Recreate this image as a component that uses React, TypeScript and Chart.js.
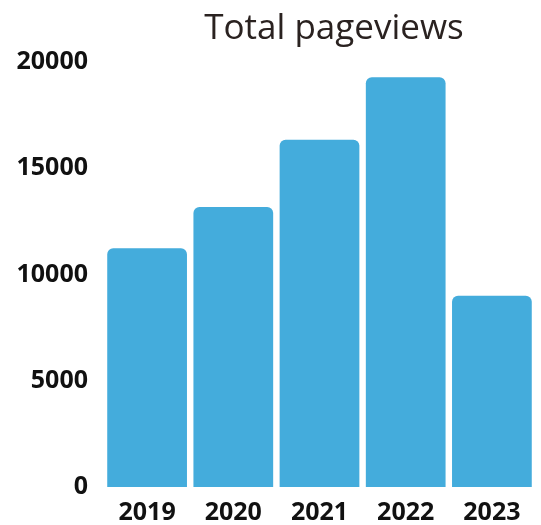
import React, { useEffect, useRef } from "react";
import { Chart, registerables } from "chart.js";

Chart.register(...registerables);

const categories = ["2019", "2020", "2021", "2022", "2023"];
const pageviews = [11230, 13180, 16340, 19280, 9000];
const yTicks = [0, 5000, 10000, 15000, 20000];
const titleText = "Total pageviews";

const FONT = "'Open Sans', 'Noto Sans', sans-serif";

const titlePlugin = {
  id: "customTitle",
  afterDraw(chart: any) {
    const { ctx, chartArea } = chart;
    ctx.save();
    ctx.font = `normal 35px ${FONT}`;
    ctx.fillStyle = "#2a2220";
    ctx.textAlign = "center";
    ctx.textBaseline = "alphabetic";
    const cx = (chartArea.left + chartArea.right) / 2 + 14.5;
    ctx.fillText(titleText, cx, 39);
    ctx.restore();
  },
};

export default function App() {
  const ref = useRef<HTMLCanvasElement | null>(null);

  useEffect(() => {
    if (!ref.current) return;
    const chart = new Chart(ref.current, {
      type: "bar",
      data: {
        labels: categories,
        datasets: [
          {
            label: titleText,
            data: pageviews,
            backgroundColor: "#44acdc",
            borderWidth: 0,
            borderRadius: 6,
            borderSkipped: "start",
            barPercentage: 0.925,
            categoryPercentage: 1,
          },
        ],
      },
      options: {
        animation: false,
        responsive: true,
        maintainAspectRatio: false,
        layout: { padding: { top: 62, left: 16, right: 6, bottom: 0 } },
        plugins: {
          legend: { display: false },
          tooltip: { enabled: false },
          title: { display: false },
        },
        scales: {
          x: {
            afterFit(scale: any) {
              scale.height = 38;
            },
            grid: { display: false, drawTicks: false },
            border: { display: false },
            ticks: {
              padding: 11,
              color: "#111",
              font: { family: FONT, size: 25, weight: "bold" },
            },
          },
          y: {
            min: 0,
            max: 20000,
            afterFit(scale: any) {
              scale.width = 88;
            },
            afterBuildTicks(scale: any) {
              scale.ticks = yTicks.map((v) => ({ value: v }));
            },
            grid: { display: false, drawTicks: false },
            border: { display: false },
            ticks: {
              padding: 16,
              color: "#111",
              font: { family: FONT, size: 25, weight: "bold" },
              callback: (v: any) => String(v),
            },
          },
        },
      },
      plugins: [titlePlugin],
    });
    return () => chart.destroy();
  }, []);

  return (
    <div style={{ position: "absolute", left: 0, top: 0, width: 541, height: 525 }}>
      <canvas ref={ref} />
    </div>
  );
}
